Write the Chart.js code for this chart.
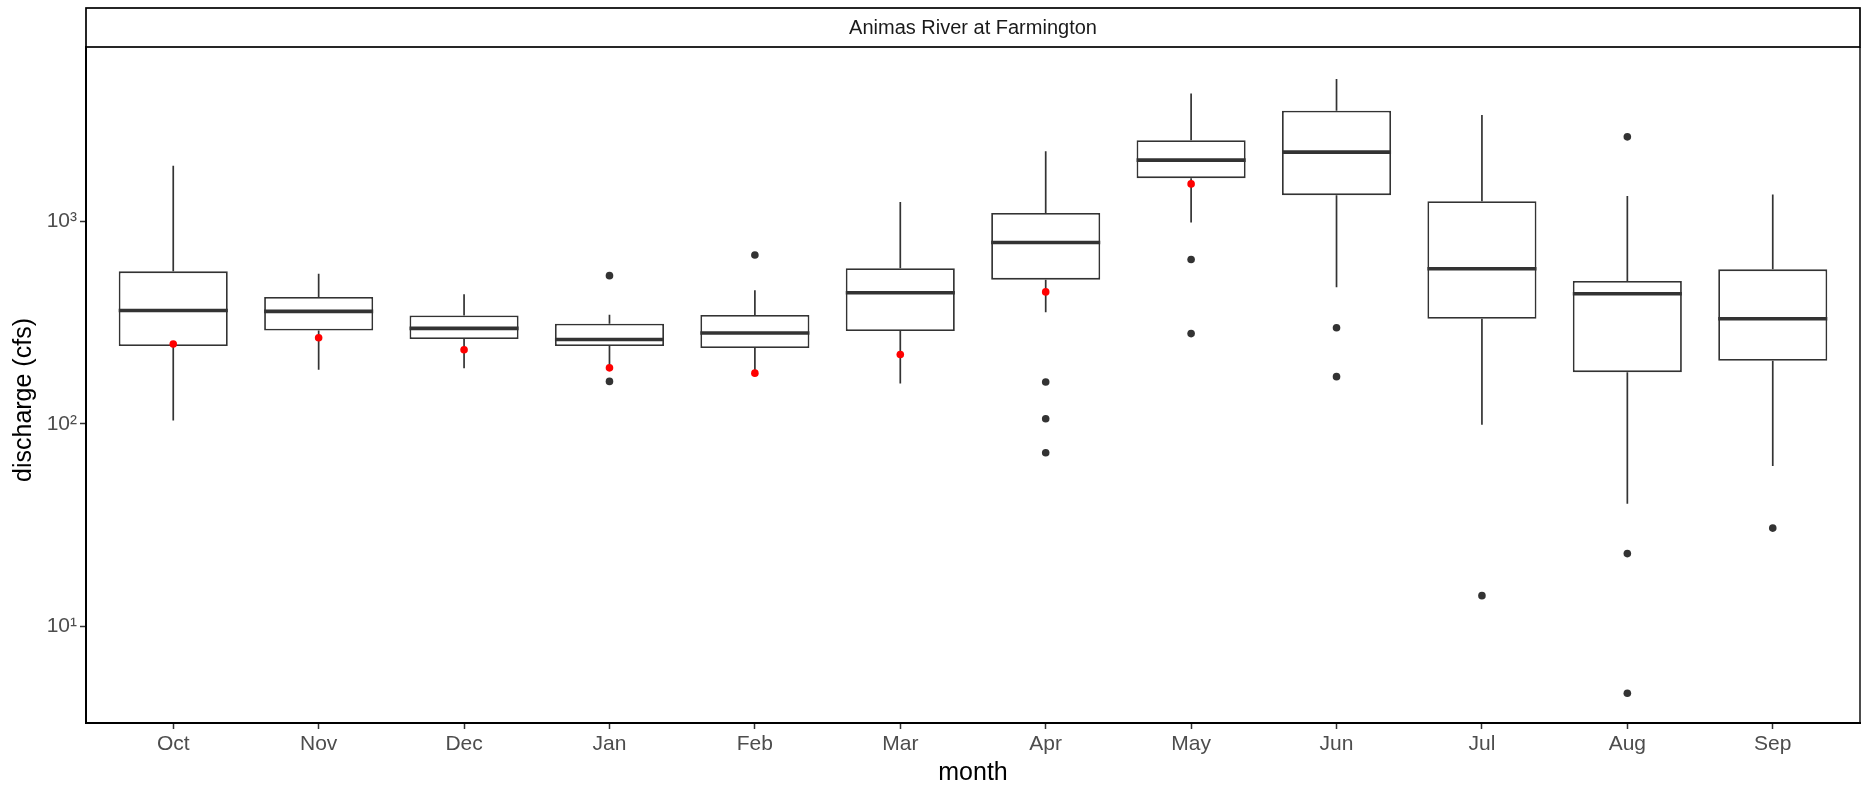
<!DOCTYPE html>
<html>
<head>
<meta charset="utf-8">
<script src="https://cdn.jsdelivr.net/npm/chart.js@4.4.1/dist/chart.umd.min.js"></script>
<style>
  body { margin: 0; background: #fff; }
  #wrap { width: 1871px; height: 788px; }
</style>
</head>
<body>
<div id="wrap"><canvas id="boxChart"></canvas></div>
<script>
// monthly discharge stats (cfs), water year order
var months = ['Oct', 'Nov', 'Dec', 'Jan', 'Feb', 'Mar', 'Apr', 'May', 'Jun', 'Jul', 'Aug', 'Sep'];
var whiskerLow = [104, 185, 188, 190, 179, 158, 356, 985, 473, 99, 40.4, 62];
var q1 = [242, 289, 262, 242, 237, 287, 515, 1632, 1345, 330, 180, 205];
var median = [363, 359, 296, 261, 281, 444, 785, 2003, 2193, 583, 439, 330];
var q3 = [566, 423, 343, 312, 345, 586, 1099, 2513, 3510, 1256, 507, 579];
var whiskerHigh = [1877, 551, 436, 346, 456, 1245, 2218, 4276, 5035, 3342, 1334, 1355];

// outliers: [month index, value]
var outliers = [
    [3, 539], [3, 162],
    [4, 681],
    [6, 161], [6, 106], [6, 72],
    [7, 647], [7, 279],
    [8, 298], [8, 171],
    [9, 14.2],
    [10, 2610], [10, 22.9], [10, 4.68],
    [11, 30.6]
];

// current year values (red points), Oct - May
var currentYear = [248, 266, 232, 189, 178, 220, 448, 1529];

var yTicks = [10, 100, 1000];
var supers = { 1: '\u00b9', 2: '\u00b2', 3: '\u00b3' };

var boxData = months.map(function (m, i) {
    return { x: i, y: [q1[i], q3[i]] };
});
var outlierData = outliers.map(function (o) {
    return { x: o[0], y: o[1] };
});
var currentData = currentYear.map(function (v, i) {
    return { x: i, y: v };
});

var fontFamily = '"Liberation Sans", Arial, sans-serif';

var boxPlugin = {
    id: 'boxParts',
    beforeDraw: function (chart) {
        var ctx = chart.ctx;
        var a = chart.chartArea;
        // facet strip
        ctx.save();
        ctx.fillStyle = '#ffffff';
        ctx.fillRect(a.left, 8, a.right - a.left, a.top - 8);
        ctx.strokeStyle = '#000000';
        ctx.lineWidth = 1.7;
        ctx.strokeRect(a.left, 8, a.right - a.left, a.top - 8);
        ctx.fillStyle = '#1a1a1a';
        ctx.font = '20px ' + fontFamily;
        ctx.textAlign = 'center';
        ctx.textBaseline = 'middle';
        ctx.fillText('Animas River at Farmington', (a.left + a.right) / 2, (8 + a.top) / 2 + 1);
        // y axis title
        ctx.translate(24, 400);
        ctx.rotate(-Math.PI / 2);
        ctx.fillStyle = '#000000';
        ctx.font = '25px ' + fontFamily;
        ctx.fillText('discharge (cfs)', 0, 0);
        ctx.restore();
    },
    beforeDatasetsDraw: function (chart) {
        var ctx = chart.ctx;
        var xs = chart.scales.x, ys = chart.scales.y;
        ctx.save();
        ctx.strokeStyle = '#333333';
        ctx.lineWidth = 1.7;
        months.forEach(function (m, i) {
            var px = xs.getPixelForValue(i);
            ctx.beginPath();
            ctx.moveTo(px, ys.getPixelForValue(whiskerLow[i]));
            ctx.lineTo(px, ys.getPixelForValue(q1[i]));
            ctx.moveTo(px, ys.getPixelForValue(q3[i]));
            ctx.lineTo(px, ys.getPixelForValue(whiskerHigh[i]));
            ctx.stroke();
        });
        ctx.restore();
    },
    afterDatasetDraw: function (chart, args) {
        if (args.index !== 0) return;
        var ctx = chart.ctx;
        var ys = chart.scales.y;
        var meta = chart.getDatasetMeta(0);
        ctx.save();
        ctx.strokeStyle = '#333333';
        ctx.lineWidth = 3.6;
        meta.data.forEach(function (bar, i) {
            var py = ys.getPixelForValue(median[i]);
            ctx.beginPath();
            ctx.moveTo(bar.x - bar.width / 2, py);
            ctx.lineTo(bar.x + bar.width / 2, py);
            ctx.stroke();
        });
        ctx.restore();
    },
    afterDraw: function (chart) {
        var ctx = chart.ctx;
        var a = chart.chartArea;
        ctx.save();
        ctx.strokeStyle = '#000000';
        ctx.lineWidth = 1.4;
        ctx.beginPath();
        ctx.moveTo(a.right, a.top);
        ctx.lineTo(a.right, a.bottom);
        ctx.stroke();
        ctx.restore();
    }
};

var boxChart = new Chart(document.getElementById('boxChart'), {
    type: 'bar',
    data: {
        datasets: [{
            label: 'box',
            data: boxData,
            backgroundColor: '#ffffff',
            borderColor: '#333333',
            borderWidth: 1.8,
            borderSkipped: false,
            barPercentage: 0.75,
            categoryPercentage: 1,
            order: 3
        }, {
            type: 'scatter',
            label: 'outliers',
            data: outlierData,
            backgroundColor: '#333333',
            borderWidth: 0,
            pointRadius: 3.8,
            order: 2
        }, {
            type: 'scatter',
            label: 'current',
            data: currentData,
            backgroundColor: '#ff0000',
            borderWidth: 0,
            pointRadius: 3.8,
            order: 1
        }]
    },
    options: {
        responsive: true,
        maintainAspectRatio: false,
        animation: false,
        layout: { padding: { left: 8, right: 11, top: 47, bottom: 0 } },
        plugins: {
            legend: { display: false },
            tooltip: { enabled: false }
        },
        scales: {
            x: {
                type: 'linear',
                min: -0.6,
                max: 11.6,
                offset: false,
                afterBuildTicks: function (scale) {
                    scale.ticks = months.map(function (m, i) { return { value: i }; });
                },
                afterFit: function (scale) { scale.height = 65; },
                ticks: {
                    autoSkip: false,
                    maxRotation: 0,
                    padding: 3,
                    color: '#4d4d4d',
                    font: { family: fontFamily, size: 21 },
                    callback: function (v) { return months[v]; }
                },
                grid: { offset: false, drawOnChartArea: false, drawTicks: true, tickLength: 6, tickColor: '#333333', tickWidth: 1.5 },
                border: { display: true, color: '#000000', width: 2 },
                title: {
                    display: true,
                    text: 'month',
                    color: '#000000',
                    padding: 0,
                    font: { family: fontFamily, size: 25 }
                }
            },
            y: {
                type: 'logarithmic',
                min: 3.34,
                max: 7244,
                afterBuildTicks: function (scale) {
                    scale.ticks = yTicks.map(function (v) { return { value: v }; });
                },
                afterFit: function (scale) { scale.width = 78; },
                ticks: {
                    padding: 3,
                    color: '#4d4d4d',
                    font: { family: fontFamily, size: 21 },
                    callback: function (v) { return '10' + supers[Math.round(Math.log10(v))]; }
                },
                grid: { drawOnChartArea: false, drawTicks: true, tickLength: 6, tickColor: '#333333', tickWidth: 1.5 },
                border: { display: true, color: '#000000', width: 2 },
                title: { display: false }
            }
        }
    },
    plugins: [boxPlugin]
});
</script>
</body>
</html>
